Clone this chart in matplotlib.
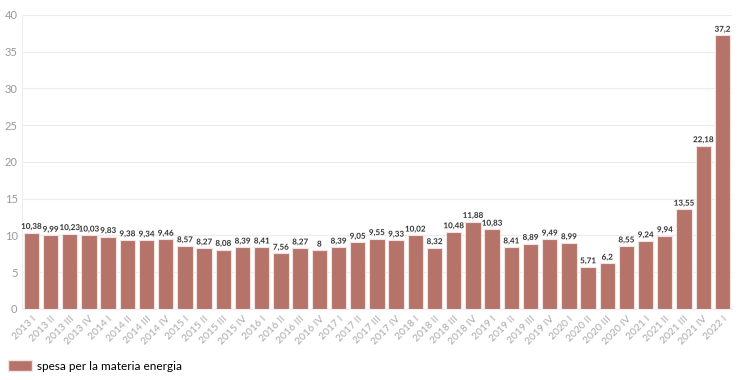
import matplotlib
matplotlib.use("Agg")
import matplotlib.pyplot as plt
from matplotlib.patches import Patch
import matplotlib.patheffects as pe

categories = ["2013 I", "2013 II", "2013 III", "2013 IV",
              "2014 I", "2014 II", "2014 III", "2014 IV",
              "2015 I", "2015 II", "2015 III", "2015 IV",
              "2016 I", "2016 II", "2016 III", "2016 IV",
              "2017 I", "2017 II", "2017 III", "2017 IV",
              "2018 I", "2018 II", "2018 III", "2018 IV",
              "2019 I", "2019 II", "2019 III", "2019 IV",
              "2020 I", "2020 II", "2020 III", "2020 IV",
              "2021 I", "2021 II", "2021 III", "2021 IV",
              "2022 I"]
values = [10.38, 9.99, 10.23, 10.03,
          9.83, 9.38, 9.34, 9.46,
          8.57, 8.27, 8.08, 8.39,
          8.41, 7.56, 8.27, 8.0,
          8.39, 9.05, 9.55, 9.33,
          10.02, 8.32, 10.48, 11.88,
          10.83, 8.41, 8.89, 9.49,
          8.99, 5.71, 6.2, 8.55,
          9.24, 9.94, 13.55, 22.18,
          37.2]
series_name = "spesa per la materia energia"
yticks = [0, 5, 10, 15, 20, 25, 30, 35, 40]

plt.rcParams['font.family'] = ['Lato', 'DejaVu Sans']
color = "#b5736a"

fig = plt.figure(figsize=(7.5, 3.8), dpi=100)
ax = fig.add_axes([0.029, 0.187, 0.947, 0.774])

x = list(range(len(categories)))
ax.bar(x, values, width=0.8, color=color, edgecolor="#f3e4e1", linewidth=0.8, zorder=3)

def fmt(v):
    s = ("%.2f" % v).rstrip("0").rstrip(".")
    return s.replace(".", ",")

for xi, v in zip(x, values):
    ax.text(xi, v + 0.35, fmt(v), ha="center", va="bottom", fontsize=5.8,
            fontweight="bold", color="#333333", zorder=4,
            path_effects=[pe.withStroke(linewidth=0.8, foreground="white")])

ax.set_xlim(-0.5, len(categories) - 0.5)
ax.set_ylim(0, 40)
ax.set_yticks(yticks)
ax.set_yticklabels([str(t) for t in yticks], fontsize=8, color="#999999")
ax.set_xticks(x)
ax.set_xticklabels(categories, rotation=45, ha="right", rotation_mode="anchor",
                   fontsize=7.5, color="#aaaaaa")
ax.tick_params(axis="both", length=0, pad=3)
ax.tick_params(axis="x", pad=4)
ax.grid(axis="y", color="#ececec", linewidth=0.8, zorder=0)
for side in ["top", "right", "bottom"]:
    ax.spines[side].set_visible(False)
ax.spines["left"].set_color("#eeeeee")
ax.spines["bottom"].set_visible(True)
ax.spines["bottom"].set_color("#eeeeee")

handle = Patch(facecolor=color, edgecolor="#f3e4e1", label=series_name)
fig.legend(handles=[handle], loc="lower left", bbox_to_anchor=(0.0, 0.0),
           frameon=False, fontsize=8.5, handlelength=2.0, handleheight=1.0,
           handletextpad=0.4, borderaxespad=0.3)

fig.savefig("out.png", dpi=100)
